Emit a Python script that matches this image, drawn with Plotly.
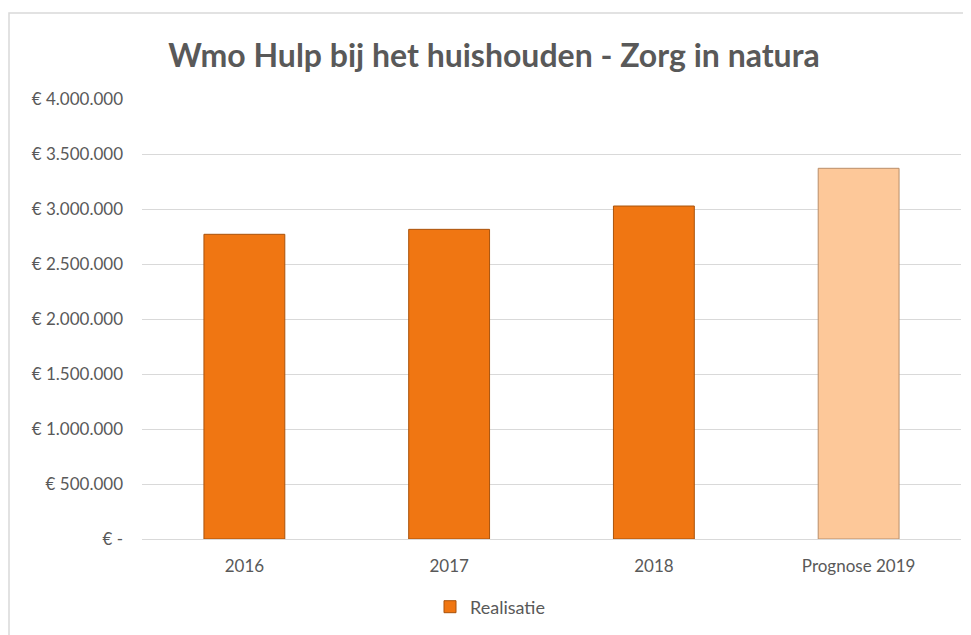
import plotly.graph_objects as go

categories = ["2016", "2017", "2018", "Prognose 2019"]
values = [2770000, 2815000, 3027000, 3370000]
bar_colors = ["#F07612", "#F07612", "#F07612", "#FDC899"]
line_colors = ["#A9530C", "#A9530C", "#A9530C", "#B98E6A"]
tick_vals = [0, 500000, 1000000, 1500000, 2000000, 2500000, 3000000, 3500000, 4000000]
tick_text = ["€ -", "€ 500.000", "€ 1.000.000", "€ 1.500.000", "€ 2.000.000",
             "€ 2.500.000", "€ 3.000.000", "€ 3.500.000", "€ 4.000.000"]
series_name = "Realisatie"
title_text = "Wmo Hulp bij het huishouden - Zorg in natura"

# page body has an 8px margin; figure sized so it fills the 971x635 window
W, H = 963, 627
OFF = 8
plot_l, plot_r, plot_t, plot_b = 142 - OFF, 961 - OFF, 99 - OFF, 539 - OFF

fig = go.Figure()
fig.add_trace(go.Bar(
    x=categories, y=values, name=series_name,
    marker=dict(color=bar_colors, line=dict(color=line_colors, width=1)),
    width=0.395, showlegend=True,
))

pw = plot_r - plot_l
ph = plot_b - plot_t

fig.update_layout(
    width=W, height=H,
    margin=dict(l=plot_l, r=W - plot_r, t=plot_t, b=H - plot_b),
    paper_bgcolor="white", plot_bgcolor="white",
    font=dict(family="Lato, sans-serif", color="#595959"),
    title=dict(text="<b>" + title_text + "</b>", x=(494 - OFF) / W, xanchor="center",
               y=1 - (56 - OFF) / H, yanchor="middle",
               font=dict(size=32, color="#595959", family="Lato, sans-serif")),
    showlegend=True,
    legend=dict(orientation="h", x=(490 - OFF - plot_l) / pw, xanchor="center",
                y=(plot_b - (607 - OFF)) / ph, yanchor="middle",
                font=dict(size=18, color="#595959")),
)
fig.update_xaxes(showgrid=False, showline=True, linecolor="#D9D9D9", linewidth=1,
                 ticks="", tickfont=dict(size=17, color="#595959"), ticklabelstandoff=12)
fig.update_yaxes(range=[0, 4000000], tickvals=tick_vals, ticktext=tick_text,
                 showgrid=True, gridcolor="#D9D9D9", gridwidth=1, zeroline=False,
                 showline=False, ticks="", tickfont=dict(size=17, color="#595959"),
                 ticklabelstandoff=18)

fig.add_shape(type="rect", xref="paper", yref="paper",
              x0=(9 - OFF - plot_l) / pw, x1=(990 - OFF - plot_l) / pw,
              y0=(plot_b - (650 - OFF)) / ph, y1=(plot_b - (13 - OFF)) / ph,
              line=dict(color="#D9D9D9", width=1.5), fillcolor="rgba(0,0,0,0)", layer="below")

fig.write_html("out.html")
